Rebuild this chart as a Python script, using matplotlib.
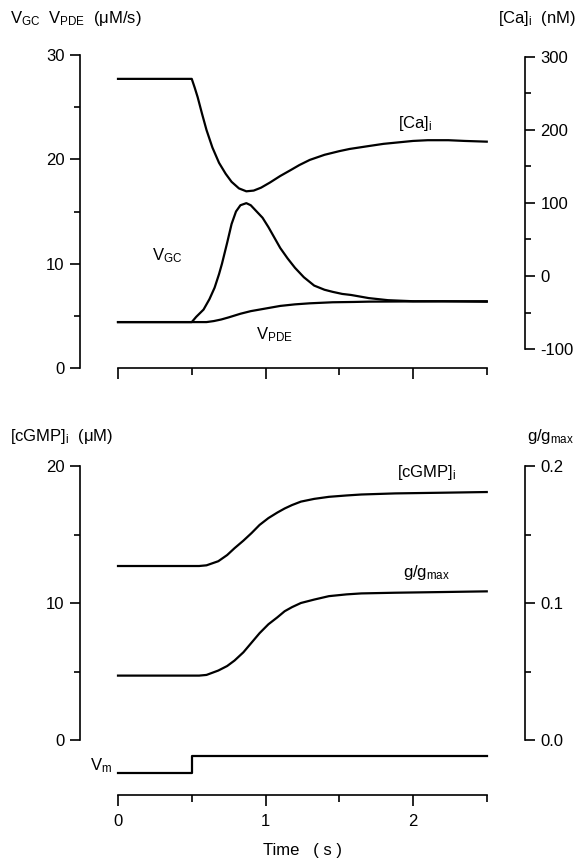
import matplotlib
matplotlib.use("Agg")
import matplotlib.pyplot as plt
from matplotlib.ticker import MultipleLocator, FixedLocator, FormatStrFormatter

plt.rcParams['font.family'] = ['Liberation Sans', 'DejaVu Sans']
plt.rcParams['mathtext.fontset'] = 'custom'
plt.rcParams['mathtext.rm'] = 'Liberation Sans'
plt.rcParams['mathtext.it'] = 'Liberation Sans:italic'
plt.rcParams['font.size'] = 12
plt.rcParams['axes.unicode_minus'] = False

# --- top panel: cyclase / PDE rates (uM/s) and free calcium (nM) ---
ca_t = [0, 0.5, 0.52, 0.54, 0.57, 0.6, 0.64, 0.685, 0.73, 0.77, 0.82, 0.87,
        0.92, 0.97, 1.03, 1.1, 1.17, 1.23, 1.3, 1.4, 1.5, 1.57, 1.7, 1.8,
        1.9, 2.0, 2.1, 2.24, 2.35, 2.5]
ca_nM = [270, 270, 258, 245, 222, 200, 176, 155, 140, 129, 120, 116,
         117, 121, 128, 137, 145, 152, 159, 166, 171, 174, 178, 181,
         183, 185, 186, 186, 185, 184]

vgc_t = [0, 0.5, 0.53, 0.58, 0.62, 0.655, 0.685, 0.705, 0.74, 0.77, 0.8,
         0.83, 0.87, 0.9, 0.94, 0.98, 1.02, 1.06, 1.1, 1.15, 1.2, 1.26,
         1.33, 1.4, 1.455, 1.52, 1.58, 1.7, 1.83, 2.0, 2.2, 2.5]
vgc = [4.4, 4.4, 4.9, 5.6, 6.6, 7.7, 9.0, 10.0, 12.0, 13.8, 15.0,
       15.6, 15.8, 15.6, 15.0, 14.4, 13.5, 12.5, 11.5, 10.5, 9.6, 8.7,
       7.9, 7.5, 7.3, 7.1, 7.0, 6.7, 6.5, 6.4, 6.4, 6.35]

vpde_t = [0, 0.6, 0.65, 0.7, 0.75, 0.83, 0.9, 1.0, 1.1, 1.2, 1.3, 1.455,
          1.6, 1.7, 2.0, 2.5]
vpde = [4.4, 4.4, 4.5, 4.65, 4.85, 5.2, 5.45, 5.7, 5.95, 6.1, 6.2, 6.3,
        6.33, 6.36, 6.38, 6.4]

# --- bottom panel: cGMP (uM), conductance fraction, voltage step ---
cg_t = [0, 0.55, 0.6, 0.68, 0.74, 0.79, 0.85, 0.905, 0.96, 1.02, 1.08,
        1.13, 1.18, 1.24, 1.33, 1.43, 1.55, 1.65, 1.88, 2.2, 2.5]
cgmp = [12.7, 12.7, 12.75, 13.05, 13.5, 14.0, 14.55, 15.1, 15.7, 16.2, 16.6,
        16.9, 17.15, 17.4, 17.6, 17.75, 17.85, 17.92, 18.0, 18.05, 18.1]
g_gmax = [0.047, 0.047, 0.0475, 0.0507, 0.054, 0.058, 0.064, 0.071, 0.078,
          0.0845, 0.0895, 0.094, 0.097, 0.100, 0.1025, 0.105, 0.1063, 0.107,
          0.1075, 0.108, 0.1085]

vm_t = [0, 0.5, 2.5]
vm_level = [0, 1, 1]

W, H = 579, 867
PX_PER_S = 147.5
X0 = 118  # pixel column of t = 0
fig = plt.figure(figsize=(W / 100, H / 100), dpi=100)


def rect(x0, y_top, x1, y_bot):
    # pixel box -> figure fraction
    return [x0 / W, 1 - y_bot / H, (x1 - x0) / W, (y_bot - y_top) / H]


def tx(px):
    # pixel column -> time
    return (px - X0) / PX_PER_S


XLIM = (tx(80), tx(525))
LW = 1.6
SPW = 1.2


def style_left(ax, lo, hi, major, minor):
    for s in ['top', 'right']:
        ax.spines[s].set_visible(False)
    ax.spines['left'].set_bounds(lo, hi)
    ax.spines['left'].set_linewidth(SPW)
    ax.yaxis.set_major_locator(MultipleLocator(major))
    ax.yaxis.set_minor_locator(MultipleLocator(minor))
    ax.tick_params(axis='y', which='major', length=7, width=SPW, pad=4)
    ax.tick_params(axis='y', which='minor', length=4.5, width=SPW)


def style_right(ax, lo, hi, major, minor):
    for s in ['top', 'left', 'bottom']:
        ax.spines[s].set_visible(False)
    ax.spines['right'].set_bounds(lo, hi)
    ax.spines['right'].set_linewidth(SPW)
    ax.yaxis.set_major_locator(MultipleLocator(major))
    ax.yaxis.set_minor_locator(MultipleLocator(minor))
    ax.tick_params(axis='y', which='major', length=7, width=SPW, pad=4)
    ax.tick_params(axis='y', which='minor', length=4.5, width=SPW)


def style_time(ax, labels):
    ax.spines['bottom'].set_bounds(0, 2.5)
    ax.spines['bottom'].set_linewidth(SPW)
    ax.xaxis.set_major_locator(FixedLocator([0, 1, 2]))
    ax.xaxis.set_minor_locator(FixedLocator([0.5, 1.5, 2.5]))
    ax.tick_params(axis='x', which='major', length=8, width=SPW, pad=6,
                   labelbottom=labels)
    ax.tick_params(axis='x', which='minor', length=5, width=SPW)


# top panel
ax1 = fig.add_axes(rect(80, 55, 525, 368))
ax1.set_xlim(*XLIM)
ax1.set_ylim(0, 30)
ax1.plot(vgc_t, vgc, color='black', lw=LW)
ax1.plot(vpde_t, vpde, color='black', lw=LW)
style_left(ax1, 0, 30, 10, 5)
style_time(ax1, False)

ax_ca = ax1.twinx()
ax_ca.set_ylim(-126, 302.7)
ax_ca.plot(ca_t, ca_nM, color='black', lw=LW)
style_right(ax_ca, -100, 300, 100, 50)

ax1.text(tx(152), 10.8, r'V$_\mathrm{GC}$', va='center', ha='left')
ax1.text(tx(256), 3.2, r'V$_\mathrm{PDE}$', va='center', ha='left')
ax1.text(tx(398), 23.4, r'[Ca]$_\mathrm{i}$', va='center', ha='left')

# bottom panel
ax2 = fig.add_axes(rect(80, 466, 525, 740))
ax2.set_xlim(*XLIM)
ax2.set_ylim(0, 20)
ax2.plot(cg_t, cgmp, color='black', lw=LW)
style_left(ax2, 0, 20, 10, 5)
ax2.spines['bottom'].set_visible(False)
ax2.tick_params(axis='x', which='both', bottom=False, labelbottom=False)

ax_g = ax2.twinx()
ax_g.set_ylim(0, 0.2)
ax_g.plot(cg_t, g_gmax, color='black', lw=LW)
style_right(ax_g, 0, 0.2, 0.1, 0.05)
ax_g.yaxis.set_major_formatter(FormatStrFormatter('%.1f'))

ax2.text(tx(397), 19.5, r'[cGMP]$_\mathrm{i}$', va='center', ha='left')
ax2.text(tx(403), 12.2, r'g/g$_\mathrm{max}$', va='center', ha='left')

# voltage step and time axis
ax_vm = fig.add_axes(rect(80, 748, 525, 795))
ax_vm.set_xlim(*XLIM)
ax_vm.set_ylim(-22 / 17, 1 + 8 / 17)
ax_vm.plot(vm_t, vm_level, color='black', lw=LW, drawstyle='steps-post')
for s in ['top', 'right', 'left']:
    ax_vm.spines[s].set_visible(False)
ax_vm.set_yticks([])
style_time(ax_vm, True)
ax_vm.text(tx(112), 0.45, r'V$_\mathrm{m}$', va='center', ha='right')
ax_vm.set_xlabel('Time   ( s )', labelpad=10)

# axis titles above each scale
fig.text(10 / W, 1 - 18 / H, r'V$_\mathrm{GC}$  V$_\mathrm{PDE}$  (μM/s)',
         va='center', ha='left')
fig.text(576 / W, 1 - 18 / H, r'[Ca]$_\mathrm{i}$  (nM)',
         va='center', ha='right')
fig.text(10 / W, 1 - 437 / H, r'[cGMP]$_\mathrm{i}$  (μM)',
         va='center', ha='left')
fig.text(527 / W, 1 - 437 / H, r'g/g$_\mathrm{max}$',
         va='center', ha='left')

fig.savefig('out.png', dpi=100)
